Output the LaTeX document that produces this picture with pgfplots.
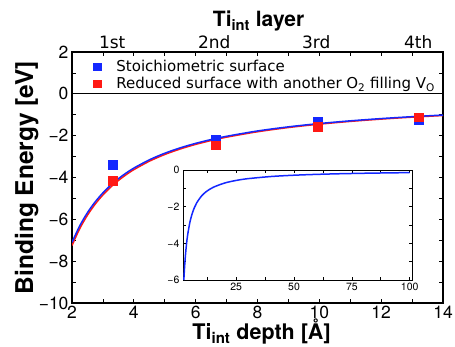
\documentclass[border=0pt]{standalone}
\usepackage{fontspec}
\setmainfont{TeX Gyre Heros}
\newfontfamily\dejavu{DejaVu Sans}
\usepackage{pgfplots}
\pgfplotsset{compat=1.18}
\usetikzlibrary{calc}
\definecolor{myblue}{RGB}{20,40,255}
\definecolor{myred}{RGB}{255,25,20}
\newcommand{\ticksize}{\fontsize{17.5}{20}\selectfont}
\begin{document}
\begin{tikzpicture}
\begin{axis}[name=main, scale only axis, width=371pt, height=251pt,
  xmin=2, xmax=14, ymin=-10, ymax=2,
  xtick={2,4,6,8,10,12,14}, xticklabels={2,4,6,8,10,12,14},
  ytick={-10,-8,-6,-4,-2,0,2}, yticklabels={−10,−8,−6,−4,−2,0,2},
  minor xtick={3,5,7,9,11,13}, minor ytick={-9,-7,-5,-3,-1,1},
  major tick length=4pt, minor tick length=4pt,
  tick style={black, line width=0.8pt},
  axis line style={line width=1.2pt},
  ticklabel style={font=\ticksize},
  xlabel={\textbf{Ti\textsubscript{int} depth [Å]}},
  xlabel style={font=\fontsize{21.5}{25}\selectfont, at={(axis description cs:0.511,-0.146)}, anchor=base},
  ylabel={\textbf{Binding Energy [eV]}},
  ylabel style={font=\fontsize{24.5}{28}\selectfont, at={(axis description cs:-0.105,0.5)}, anchor=base},
  legend style={draw=none, fill=none, at={(axis description cs:0.036,0.984)}, anchor=north west,
    font=\dejavu\fontsize{15}{18}\selectfont, row sep=0pt},
  legend cell align=left,
  legend image code/.code={\draw[#1, mark size=3.6pt] plot coordinates {(0.3cm,0cm)}; \path (0cm,0cm) (0.72cm,0cm);},
]
\addplot[black, line width=0.8pt, forget plot] coordinates {(2,0) (14,0)};
\addplot[myred, line width=1.5pt, smooth, forget plot] coordinates {
(2,-7.250) (2.25,-6.444) (2.5,-5.800) (2.75,-5.273) (3,-4.833) (3.25,-4.462) (3.5,-4.143) (3.75,-3.867)
(4,-3.625) (4.5,-3.222) (5,-2.900) (5.5,-2.636) (6,-2.417) (6.5,-2.231) (7,-2.071) (8,-1.813)
(9,-1.611) (10,-1.450) (11,-1.318) (12,-1.208) (13,-1.115) (14,-1.036)};
\addplot[myblue, line width=1.5pt, smooth, forget plot] coordinates {
(2,-7.100) (2.25,-6.311) (2.5,-5.680) (2.75,-5.164) (3,-4.733) (3.25,-4.369) (3.5,-4.057) (3.75,-3.787)
(4,-3.550) (4.5,-3.156) (5,-2.840) (5.5,-2.582) (6,-2.367) (6.5,-2.185) (7,-2.029) (8,-1.775)
(9,-1.578) (10,-1.420) (11,-1.291) (12,-1.183) (13,-1.092) (14,-1.014)};
\addplot[only marks, mark=square*, mark size=4.3pt, myblue] coordinates {
(3.32,-3.40) (6.64,-2.18) (9.95,-1.30) (13.22,-1.24)};
\addlegendentry{\hspace{5pt}Stoichiometric surface}
\addplot[only marks, mark=square*, mark size=4.3pt, myred] coordinates {
(3.32,-4.16) (6.64,-2.45) (9.95,-1.56) (13.22,-1.12)};
\addlegendentry{\hspace{5pt}Reduced surface with another O\textsubscript{2} filling V\textsubscript{O}}
\end{axis}
\begin{axis}[at={(main.south west)}, anchor=south west, scale only axis, width=371pt, height=251pt,
  xmin=2, xmax=14, ymin=-10, ymax=2,
  axis x line*=top, axis y line=none, axis line style={draw=none},
  xtick={3.3,6.6,9.9,13.2}, xticklabels={1st,2nd,3rd,4th}, major tick length=0pt,
  xticklabel style={font=\dejavu\fontsize{17}{20}\selectfont},
  xlabel={\textbf{Ti\textsubscript{int} layer}},
  xlabel style={font=\fontsize{21}{24}\selectfont, at={(axis description cs:0.503,1.1)}, anchor=base},
]
\end{axis}
\begin{axis}[at={($(main.south west)+(111pt,23pt)$)}, anchor=south west, scale only axis,
  width=229pt, height=110pt,
  xmin=2, xmax=101, ymin=-6, ymax=0,
  xtick={25,50,75,100}, xticklabels={25,50,75,100},
  ytick={-6,-4,-2,0}, yticklabels={−6,−4,−2,0},
  minor xtick={12.5,37.5,62.5,87.5}, minor ytick={-5,-3,-1},
  major tick length=3pt, minor tick length=3pt,
  tick style={black, line width=0.6pt},
  axis line style={line width=0.8pt},
  ticklabel style={font=\fontsize{10.5}{12}\selectfont},
  axis background/.style={fill=white},
]
\addplot[myblue, line width=1.5pt, smooth] coordinates {
(2.367,-6.0) (2.5,-5.680) (2.75,-5.164) (3,-4.733) (3.5,-4.057) (4,-3.550) (5,-2.840) (6,-2.367)
(7,-2.029) (8,-1.775) (10,-1.420) (12,-1.183) (15,-0.947) (20,-0.710) (25,-0.568) (30,-0.473)
(40,-0.355) (50,-0.284) (60,-0.237) (70,-0.203) (80,-0.178) (90,-0.158) (100,-0.142)};
\end{axis}
\pgfresetboundingbox
\path ($(main.south west)+(-72pt,-43pt)$) rectangle ($(main.north east)+(12pt,52pt)$);
\end{tikzpicture}
\end{document}
